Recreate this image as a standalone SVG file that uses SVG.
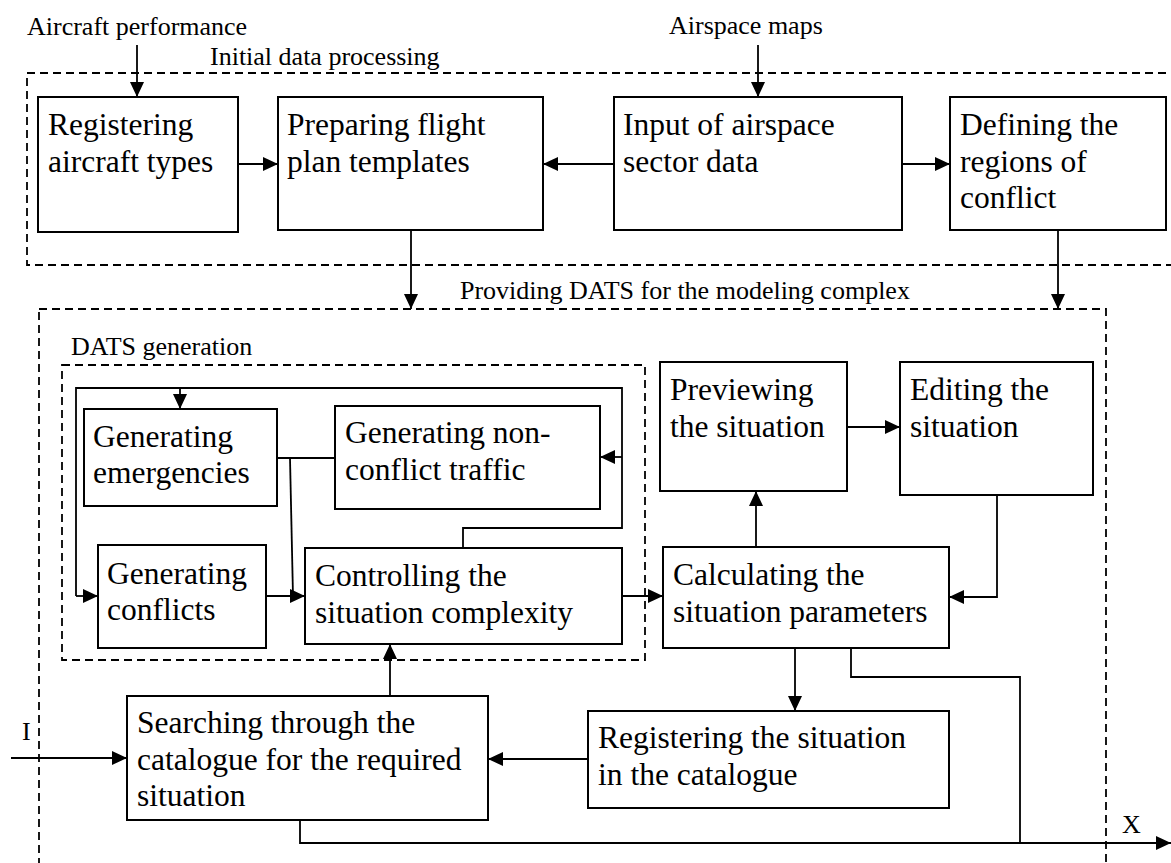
<svg xmlns="http://www.w3.org/2000/svg" width="1171" height="863" viewBox="0 0 1171 863">
  <defs>
    <marker id="arrow" markerUnits="userSpaceOnUse" markerWidth="16" markerHeight="14" refX="15" refY="7" orient="auto">
      <path d="M0,0 L15,7 L0,14 z" fill="#000"/>
    </marker>
    <style>
      .box { fill: #fff; stroke: #000; stroke-width: 2; }
      .frame { fill: none; stroke: #000; stroke-width: 1.8; stroke-dasharray: 8 5; }
      .line { fill: none; stroke: #000; stroke-width: 1.8; }
      .arr { fill: none; stroke: #000; stroke-width: 1.8; marker-end: url(#arrow); }
      .t { font-family: "Liberation Serif", "Times New Roman", serif; font-size: 31.5px; fill: #000; }
      .lbl { font-family: "Liberation Serif", "Times New Roman", serif; font-size: 26px; fill: #000; }
    </style>
  </defs>
  <rect width="1171" height="863" fill="#fff"/>

  <!-- dashed grouping frames -->
  <g id="frames">
    <rect class="frame" x="27" y="73" width="1160" height="192"/>
    <text class="lbl" x="210" y="65">Initial data processing</text>
    <rect class="frame" x="39" y="309" width="1067" height="570"/>
    <text class="lbl" x="460" y="299">Providing DATS for the modeling complex</text>
    <rect class="frame" x="62" y="365" width="583" height="295"/>
    <text class="lbl" x="71" y="355">DATS generation</text>
  </g>

  <!-- external inputs and outputs -->
  <g id="labels">
    <text class="lbl" x="27" y="35">Aircraft performance</text>
    <text class="lbl" x="669" y="34">Airspace maps</text>
    <text class="lbl" x="22" y="740">I</text>
    <text class="lbl" x="1122" y="833">X</text>
  </g>

  <!-- initial data processing -->
  <g id="reg-aircraft">
    <rect class="box" x="38" y="97" width="200" height="135"/>
    <text class="t" x="48" y="135">Registering</text>
    <text class="t" x="48" y="172">aircraft types</text>
  </g>
  <g id="prep-templates">
    <rect class="box" x="278" y="97" width="265" height="133"/>
    <text class="t" x="287" y="135">Preparing flight</text>
    <text class="t" x="287" y="172">plan templates</text>
  </g>
  <g id="input-sector">
    <rect class="box" x="614" y="97" width="288" height="133"/>
    <text class="t" x="623" y="135">Input of airspace</text>
    <text class="t" x="623" y="172">sector data</text>
  </g>
  <g id="conflict-regions">
    <rect class="box" x="950" y="97" width="216" height="133"/>
    <text class="t" x="960" y="135">Defining the</text>
    <text class="t" x="960" y="172">regions of</text>
    <text class="t" x="960" y="208">conflict</text>
  </g>

  <!-- DATS generation -->
  <g id="gen-emergencies">
    <rect class="box" x="84" y="409" width="193" height="97"/>
    <text class="t" x="93" y="447">Generating</text>
    <text class="t" x="93" y="483">emergencies</text>
  </g>
  <g id="gen-nonconflict">
    <rect class="box" x="335" y="406" width="265" height="103"/>
    <text class="t" x="345" y="443">Generating non-</text>
    <text class="t" x="345" y="480">conflict traffic</text>
  </g>
  <g id="gen-conflicts">
    <rect class="box" x="98" y="545" width="168" height="103"/>
    <text class="t" x="107" y="584">Generating</text>
    <text class="t" x="107" y="620">conflicts</text>
  </g>
  <g id="control-complexity">
    <rect class="box" x="305" y="548" width="317" height="96"/>
    <text class="t" x="315" y="586">Controlling the</text>
    <text class="t" x="315" y="623">situation complexity</text>
  </g>

  <!-- situation handling -->
  <g id="preview">
    <rect class="box" x="660" y="362" width="187" height="129"/>
    <text class="t" x="670" y="400">Previewing</text>
    <text class="t" x="670" y="437">the situation</text>
  </g>
  <g id="edit">
    <rect class="box" x="900" y="362" width="193" height="133"/>
    <text class="t" x="910" y="400">Editing the</text>
    <text class="t" x="910" y="437">situation</text>
  </g>
  <g id="calc-params">
    <rect class="box" x="663" y="547" width="286" height="101"/>
    <text class="t" x="673" y="585">Calculating the</text>
    <text class="t" x="673" y="622">situation parameters</text>
  </g>
  <g id="search-catalogue">
    <rect class="box" x="127" y="696" width="361" height="124"/>
    <text class="t" x="137" y="733">Searching through the</text>
    <text class="t" x="137" y="770">catalogue for the required</text>
    <text class="t" x="137" y="806">situation</text>
  </g>
  <g id="register-situation">
    <rect class="box" x="588" y="711" width="361" height="97"/>
    <text class="t" x="598" y="748">Registering the situation</text>
    <text class="t" x="598" y="785">in the catalogue</text>
  </g>

  <!-- connectors -->
  <g id="connectors">
    <line class="arr" x1="137" y1="45" x2="137" y2="97"/>
    <line class="arr" x1="758" y1="45" x2="758" y2="97"/>
    <line class="arr" x1="238" y1="164" x2="278" y2="164"/>
    <line class="arr" x1="614" y1="164" x2="543" y2="164"/>
    <line class="arr" x1="902" y1="164" x2="950" y2="164"/>
    <line class="arr" x1="411" y1="230" x2="411" y2="309"/>
    <line class="arr" x1="1058" y1="230" x2="1058" y2="309"/>

    <!-- feedback loop around the generators -->
    <polyline class="line" points="463,548 463,528 622,528 622,388 76,388 76,596"/>
    <line class="arr" x1="180" y1="388" x2="180" y2="409"/>
    <line class="arr" x1="622" y1="457" x2="600" y2="457"/>
    <line class="arr" x1="76" y1="596" x2="98" y2="596"/>
    <line class="line" x1="277" y1="458" x2="335" y2="458"/>
    <polyline class="line" points="290,458 293,596"/>
    <line class="arr" x1="266" y1="596" x2="305" y2="596"/>

    <line class="arr" x1="622" y1="596" x2="663" y2="596"/>
    <line class="arr" x1="756" y1="547" x2="756" y2="491"/>
    <line class="arr" x1="847" y1="427" x2="900" y2="427"/>
    <polyline class="arr" points="997,495 997,597 949,597"/>
    <line class="arr" x1="795" y1="648" x2="795" y2="711"/>
    <line class="arr" x1="588" y1="759" x2="488" y2="759"/>
    <line class="arr" x1="390" y1="696" x2="390" y2="644"/>
    <line class="arr" x1="11" y1="758" x2="127" y2="758"/>
    <polyline class="line" points="851,648 851,677 1020,677 1020,843"/>
    <polyline class="arr" points="300,820 300,843 1171,843"/>
  </g>
</svg>
